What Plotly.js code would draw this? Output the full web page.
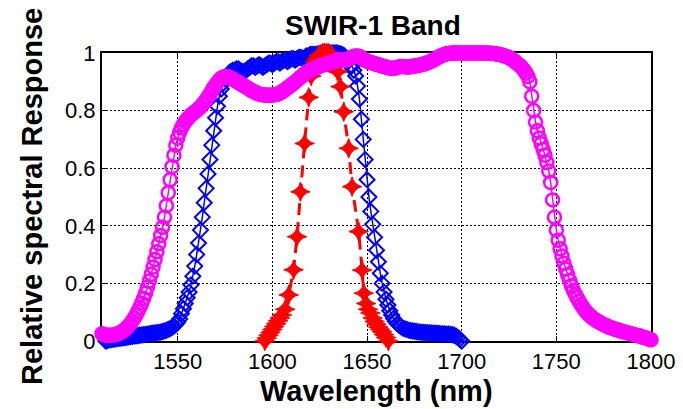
<!DOCTYPE html>
<html>
<head>
<meta charset="utf-8">
<script src="https://cdn.plot.ly/plotly-3.0.1.min.js"></script>
<style>html,body{margin:0;padding:0;background:#fff;}#chart{width:683px;height:409px;}</style>
</head>
<body>
<div id="chart"></div>
<script>
// Blue (diamonds): sampled every 1 nm from 1512 to 1700
const blueStart = 1512;
const blueY = [
  0.000, 0.002, 0.004, 0.005, 0.006, 0.007, 0.008, 0.009, 0.010, 0.011,
  0.012, 0.013, 0.014, 0.015, 0.016, 0.017, 0.018, 0.019, 0.020, 0.021,
  0.022, 0.023, 0.024, 0.025, 0.026, 0.027, 0.028, 0.029, 0.030, 0.031,
  0.033, 0.035, 0.037, 0.040, 0.043, 0.047, 0.052, 0.058, 0.066, 0.076,
  0.095, 0.112, 0.130, 0.150, 0.170, 0.195, 0.225, 0.260, 0.300, 0.340,
  0.385, 0.430, 0.480, 0.530, 0.580, 0.630, 0.680, 0.730, 0.775, 0.815,
  0.850, 0.875, 0.895, 0.910, 0.920, 0.930, 0.935, 0.940, 0.940, 0.945,
  0.945, 0.940, 0.935, 0.935, 0.940, 0.945, 0.950, 0.955, 0.955, 0.950,
  0.955, 0.960, 0.955, 0.950, 0.955, 0.960, 0.965, 0.965, 0.960, 0.965,
  0.970, 0.970, 0.965, 0.970, 0.975, 0.975, 0.970, 0.975, 0.980, 0.980,
  0.975, 0.980, 0.985, 0.985, 0.980, 0.985, 0.990, 0.990, 0.995, 0.995,
  0.995, 0.995, 0.997, 0.998, 0.999, 1.000, 1.000, 1.000, 1.000, 1.000,
  1.000, 1.000, 1.000, 0.999, 0.997, 0.994, 0.990, 0.980, 0.970, 0.955,
  0.955, 0.940, 0.920, 0.885, 0.840, 0.770, 0.700, 0.630, 0.560, 0.500,
  0.450, 0.405, 0.360, 0.315, 0.275, 0.235, 0.200, 0.170, 0.145, 0.125,
  0.105, 0.090, 0.078, 0.068, 0.060, 0.054, 0.049, 0.045, 0.042, 0.040,
  0.038, 0.036, 0.035, 0.034, 0.033, 0.032, 0.031, 0.030, 0.030, 0.029,
  0.029, 0.028, 0.028, 0.027, 0.027, 0.026, 0.026, 0.025, 0.025, 0.025,
  0.024, 0.024, 0.023, 0.022, 0.020, 0.017, 0.012, 0.006, 0.000
];
const blueX = blueY.map((_, i) => blueStart + i);

const redX = [
  1596, 1597, 1598, 1599, 1600, 1601, 1602, 1603, 1604, 1605,
  1606.8, 1608.6, 1611.2, 1613, 1614.8, 1617, 1619.2,
  1620.5, 1621.5, 1622.5, 1623.5, 1624.5, 1625.5, 1626.5, 1627.5, 1628.5, 1629.5, 1630.5, 1631.5, 1632.5, 1633.5, 1634.5,
  1636, 1637.7, 1640.3, 1642.1, 1645.6, 1647.4, 1648.3,
  1649.5, 1650.5, 1651.8, 1653, 1654, 1655, 1656, 1657, 1658, 1659, 1660, 1661.3
];
const redY = [
  0.000, 0.010, 0.020, 0.030, 0.040, 0.050, 0.060, 0.070, 0.080, 0.090,
  0.110, 0.160, 0.247, 0.362, 0.518, 0.686, 0.846,
  0.920, 0.950, 0.970, 0.980, 0.990, 0.995, 1.000, 1.000, 1.000, 1.000, 0.995, 0.990, 0.980, 0.965, 0.935,
  0.883, 0.796, 0.669, 0.536, 0.380, 0.246, 0.166,
  0.130, 0.110, 0.097, 0.080, 0.068, 0.058, 0.048, 0.040, 0.032, 0.022, 0.012, 0.000
];

// Magenta (circles): sampled every 1 nm from 1510 to 1800
const magStart = 1510;
const magY = [
  0.025, 0.022, 0.020, 0.020, 0.020, 0.020, 0.021, 0.022, 0.024, 0.027,
  0.030, 0.034, 0.039, 0.045, 0.052, 0.060, 0.069, 0.079, 0.090, 0.103,
  0.117, 0.132, 0.148, 0.166, 0.186, 0.208, 0.232, 0.257, 0.283, 0.310,
  0.338, 0.366, 0.395, 0.430, 0.470, 0.515, 0.560, 0.605, 0.645, 0.680,
  0.705, 0.725, 0.740, 0.752, 0.762, 0.770, 0.778, 0.785, 0.790, 0.795,
  0.800, 0.806, 0.812, 0.820, 0.828, 0.837, 0.847, 0.857, 0.868, 0.879,
  0.889, 0.898, 0.906, 0.912, 0.916, 0.918, 0.918, 0.916, 0.913, 0.910,
  0.906, 0.902, 0.898, 0.894, 0.890, 0.886, 0.882, 0.878, 0.874, 0.870,
  0.866, 0.863, 0.860, 0.858, 0.856, 0.855, 0.854, 0.853, 0.853, 0.853,
  0.854, 0.855, 0.856, 0.858, 0.861, 0.865, 0.869, 0.874, 0.879, 0.884,
  0.889, 0.894, 0.899, 0.905, 0.911, 0.917, 0.922, 0.927, 0.932, 0.936,
  0.940, 0.943, 0.946, 0.949, 0.952, 0.955, 0.957, 0.959, 0.961, 0.963,
  0.965, 0.967, 0.970, 0.973, 0.976, 0.977, 0.976, 0.975, 0.975, 0.976,
  0.978, 0.981, 0.985, 0.988, 0.990, 0.990, 0.988, 0.984, 0.979, 0.975,
  0.972, 0.969, 0.967, 0.965, 0.963, 0.961, 0.959, 0.957, 0.955, 0.953,
  0.951, 0.949, 0.948, 0.947, 0.947, 0.948, 0.950, 0.952, 0.953, 0.953,
  0.952, 0.951, 0.951, 0.952, 0.954, 0.955, 0.956, 0.957, 0.958, 0.960,
  0.962, 0.964, 0.966, 0.969, 0.972, 0.975, 0.979, 0.983, 0.987, 0.990,
  0.993, 0.995, 0.997, 0.998, 0.999, 1.000, 1.000, 1.000, 1.000, 1.000,
  1.000, 1.000, 1.000, 1.000, 1.000, 1.000, 1.000, 1.000, 1.000, 1.000,
  1.000, 1.000, 1.000, 1.000, 1.000, 0.999, 0.999, 0.998, 0.997, 0.996,
  0.995, 0.993, 0.991, 0.989, 0.987, 0.984, 0.980, 0.976, 0.971, 0.965,
  0.960, 0.955, 0.948, 0.940, 0.930, 0.918, 0.900, 0.850, 0.800, 0.760,
  0.730, 0.705, 0.685, 0.665, 0.645, 0.620, 0.590, 0.550, 0.490, 0.430,
  0.385, 0.350, 0.320, 0.295, 0.270, 0.250, 0.230, 0.210, 0.192, 0.176,
  0.162, 0.150, 0.138, 0.127, 0.117, 0.108, 0.100, 0.093, 0.087, 0.081,
  0.076, 0.072, 0.068, 0.064, 0.060, 0.057, 0.054, 0.051, 0.048, 0.046,
  0.043, 0.041, 0.039, 0.037, 0.035, 0.033, 0.031, 0.029, 0.028, 0.026,
  0.024, 0.022, 0.020, 0.019, 0.017, 0.015, 0.013, 0.011, 0.009, 0.007,
  0.004
];
const magX = magY.map((_, i) => magStart + i);

const xTickVals = [1550, 1600, 1650, 1700, 1750, 1800];
const xTickText = ["1550", "1600", "1650", "1700", "1750", "1800"];
const yTickVals = [0, 0.2, 0.4, 0.6, 0.8, 1];
const yTickText = ["0", "0.2", "0.4", "0.6", "0.8", "1"];

const titleText = "SWIR-1 Band";
const xTitle = "Wavelength (nm)";
const yTitle = "Relative spectral Response";

const FONT = "Liberation Sans, Arial, Helvetica, sans-serif";

const traces = [
  {
    x: blueX, y: blueY, type: "scatter", mode: "lines+markers",
    line: {color: "#0000FF", width: 1.5},
    marker: {symbol: "diamond-open", size: 11.5, color: "#0000FF", line: {width: 2, color: "#0000FF"}},
    cliponaxis: false, showlegend: false, hoverinfo: "skip"
  },
  {
    x: redX, y: redY, type: "scatter", mode: "lines+markers",
    line: {color: "#FF0000", width: 3, dash: "12px,7px"},
    marker: {symbol: "star-diamond", size: 14, color: "#FF0000", line: {width: 1, color: "#FF0000"}},
    cliponaxis: false, showlegend: false, hoverinfo: "skip"
  },
  {
    x: magX, y: magY, type: "scatter", mode: "lines+markers",
    line: {color: "#FF00FF", width: 1.5},
    marker: {symbol: "circle-open", size: 13, color: "#FF00FF", line: {width: 2.5, color: "#FF00FF"}},
    cliponaxis: false, showlegend: false, hoverinfo: "skip"
  }
];

const axisFont = {family: FONT, size: 29, weight: "bold", color: "#000000"};

const layout = {
  width: 683, height: 409,
  margin: {l: 102, r: 32, t: 53, b: 68, pad: 0},
  paper_bgcolor: "#FFFFFF", plot_bgcolor: "#FFFFFF",
  font: {family: FONT, color: "#000000", size: 22},
  showlegend: false,
  title: {
    text: titleText,
    font: {family: FONT, size: 28, weight: "bold", color: "#000000"},
    xref: "container", x: 0.546, xanchor: "center",
    yref: "container", y: 0.938, yanchor: "middle"
  },
  xaxis: {
    range: [1510, 1800], tickmode: "array", tickvals: xTickVals, ticktext: xTickText,
    showgrid: true, gridcolor: "#000000", gridwidth: 1, griddash: "2px,2px",
    showline: true, linecolor: "#000000", linewidth: 2, mirror: "ticks",
    ticks: "inside", ticklen: 5, tickwidth: 1, tickcolor: "#000000",
    tickfont: {family: FONT, size: 22, color: "#000000"},
    zeroline: false, layer: "below traces", automargin: false
  },
  yaxis: {
    range: [0, 1], tickmode: "array", tickvals: yTickVals, ticktext: yTickText,
    showgrid: true, gridcolor: "#000000", gridwidth: 1, griddash: "2px,2px",
    showline: true, linecolor: "#000000", linewidth: 2, mirror: "ticks",
    ticks: "inside", ticklen: 5, tickwidth: 1, tickcolor: "#000000",
    tickfont: {family: FONT, size: 22, color: "#000000"},
    zeroline: false, layer: "below traces", automargin: false
  },
  annotations: [
    {
      text: xTitle, font: axisFont, showarrow: false,
      xref: "paper", x: 0.5, xanchor: "center",
      yref: "paper", y: 0, yanchor: "top", yshift: -32
    },
    {
      text: yTitle, font: axisFont, showarrow: false, textangle: -90,
      xref: "paper", x: 0, xanchor: "center", xshift: -70,
      yref: "paper", y: 0.5, yanchor: "middle"
    }
  ]
};

Plotly.newPlot("chart", traces, layout, {displayModeBar: false, staticPlot: true});
</script>
</body>
</html>
